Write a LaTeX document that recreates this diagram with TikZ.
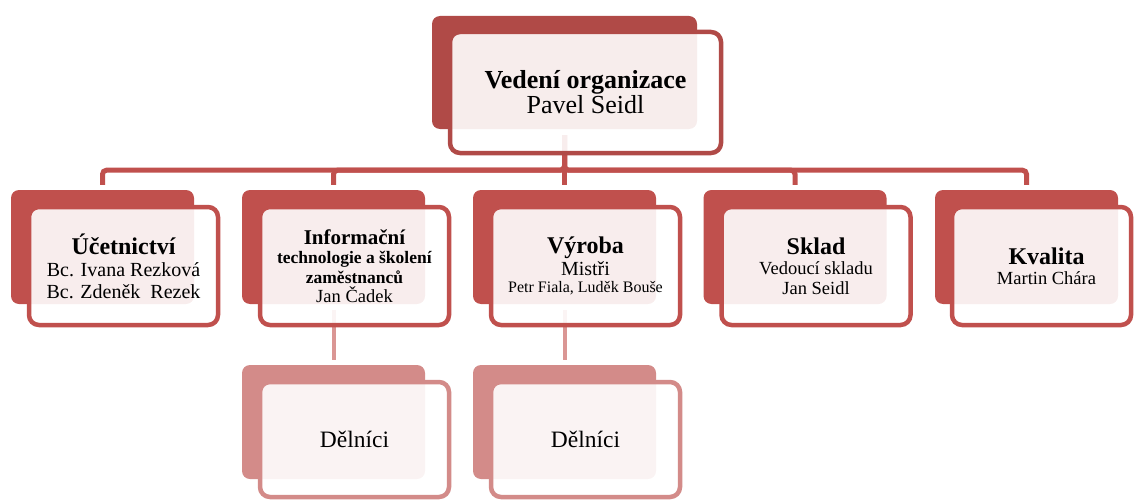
\documentclass[tikz,border=0pt]{standalone}
\usepackage{fontspec}
\setmainfont{Liberation Serif}
\definecolor{leadred}{RGB}{176,74,71}
\definecolor{deptred}{RGB}{192,80,77}
\definecolor{crewred}{RGB}{211,139,137}
\definecolor{crewlink}{RGB}{218,150,148}

\begin{document}
\begin{tikzpicture}[x=1pt, y=-1pt,
    backbox/.style={rectangle, rounded corners=8pt, inner sep=0pt,
        minimum width=183pt, minimum height=114pt},
    frontbox/.style={rectangle, rounded corners=10pt, line width=4.5pt,
        fill=white, fill opacity=0.9, text opacity=1, inner sep=0pt,
        minimum width=189pt, minimum height=118pt, align=center},
    link/.style={line width=5pt, rounded corners=4pt, shorten <=6pt, shorten >=5pt}]

    \useasboundingbox (0,0) rectangle (1134,500);

    % back boxes
    \node[backbox, fill=leadred, 
        minimum width=265pt, minimum height=113pt
        ] (vedeniB) at (564.5,72.5) {};

    \node[backbox, fill=deptred] (uctoB) at (102.5,247) {};
    \node[backbox, fill=deptred] (itB) at (333.5,247) {};
    \node[backbox, fill=deptred] (vyrobaB) at (564.5,247) {};
    \node[backbox, fill=deptred] (skladB) at (795,247) {};
    \node[backbox, fill=deptred] (kvalitaB) at (1026.5,247) {};

    \node[backbox, fill=crewred] (delniciAB) at (333.5,422) {};
    \node[backbox, fill=crewred] (delniciBB) at (564.5,422) {};

    % connectors
    \draw[link, deptred] (vedeniB.south) -- ++(0,41) -| (uctoB.north);
    \draw[link, deptred] (vedeniB.south) -- ++(0,41) -| (itB.north);
    \draw[link, deptred] (vedeniB.south) -- (vyrobaB.north);
    \draw[link, deptred] (vedeniB.south) -- ++(0,41) -| (skladB.north);
    \draw[link, deptred] (vedeniB.south) -- ++(0,41) -| (kvalitaB.north);

    \draw[link, line width=4pt, crewlink] (itB.south) -- (delniciAB.north);
    \draw[link, line width=4pt, crewlink] (vyrobaB.south) -- (delniciBB.north);

    % front boxes
    \node[frontbox, draw=leadred, 
        minimum width=271pt, minimum height=121pt,
        font=\fontsize{26}{25}\selectfont
        ] (vedeni) at (585.5,92.5) {\textbf{Vedení organizace}\\Pavel Seidl};

    \node[frontbox, draw=deptred, 
        font=\fontsize{20}{22}\selectfont
        ] (ucto) at (123.5,266) {{\fontsize{24}{24}\selectfont\bfseries Účetnictví}\\Bc. Ivana Rezková\\Bc. Zdeněk~ Rezek};

    \node[frontbox, draw=deptred, 
        font=\fontsize{17.5}{19.5}\selectfont
        ] (it) at (354.5,266) {{\fontsize{21}{21}\selectfont\bfseries Informační}\\\textbf{technologie a školení}\\\textbf{zaměstnanců}\\{\fontsize{18.5}{18.5}\selectfont Jan Čadek}};

    \node[frontbox, draw=deptred, 
        font=\fontsize{20}{20}\selectfont
        ] (vyroba) at (585.5,266) {{\fontsize{24}{24}\selectfont\bfseries Výroba}\\[2pt]Mistři\\[-3pt]{\fontsize{16}{16}\selectfont Petr Fiala, Luděk Bouše}};

    \node[frontbox, draw=deptred, 
        font=\fontsize{18.5}{20}\selectfont
        ] (sklad) at (816,266) {{\fontsize{24}{24}\selectfont\bfseries Sklad}\\Vedoucí skladu\\Jan Seidl};

    \node[frontbox, draw=deptred, 
        minimum width=179pt,
        font=\fontsize{18.5}{20}\selectfont
        ] (kvalita) at (1041.5,266) {\hspace{10pt}{\fontsize{24}{24}\selectfont\bfseries Kvalita}\\\hspace{10pt}Martin Chára};

    \node[frontbox, draw=crewred, 
        minimum height=115pt,
        font=\fontsize{23.5}{24}\selectfont
        ] (delniciA) at (354.5,439.5) {Dělníci};

    \node[frontbox, draw=crewred, 
        minimum height=115pt,
        font=\fontsize{23.5}{24}\selectfont
        ] (delniciB) at (585.5,439.5) {Dělníci};

\end{tikzpicture}
\end{document}
